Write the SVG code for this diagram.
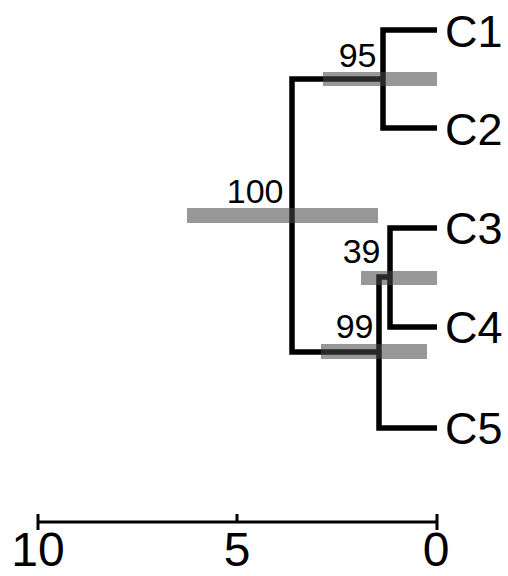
<svg xmlns="http://www.w3.org/2000/svg" width="508" height="576" viewBox="0 0 508 576">
<style>
.br{fill:none;stroke:#000;stroke-width:5.5;stroke-linejoin:miter;stroke-linecap:butt}
.bar{fill:#484848;fill-opacity:0.56}
.tip{font-family:"Liberation Sans",Arial,sans-serif;font-size:45px;fill:#000}
.sup{font-family:"Liberation Sans",Arial,sans-serif;font-size:34px;fill:#000;text-anchor:end}
.ax{font-family:"Liberation Sans",Arial,sans-serif;font-size:48px;fill:#000;text-anchor:middle}
.axl{fill:none;stroke:#000;stroke-width:3}
</style>
<rect width="508" height="576" fill="#fff"/>
<g id="connectors">
<path class="br" d="M383 79 H292 V352 H379"/>
<path class="br" d="M437 30 H383 V128 H437"/>
<path class="br" d="M390 277 H379 V428 H437"/>
<path class="br" d="M437 228 H390 V327 H437"/>
</g>
<g id="node-100"><rect class="bar" x="187" y="208" width="191" height="15"/><text class="sup" x="283.5" y="203">100</text></g>
<g id="node-95"><rect class="bar" x="323" y="72" width="114" height="14"/><text class="sup" x="376.5" y="67">95</text></g>
<g id="node-39"><rect class="bar" x="361" y="271" width="76" height="14"/><text class="sup" x="380.5" y="263">39</text></g>
<g id="node-99"><rect class="bar" x="321" y="344" width="106" height="15"/><text class="sup" x="373.5" y="338">99</text></g>
<g id="tip-C1"><text class="tip" x="445" y="47">C1</text></g>
<g id="tip-C2"><text class="tip" x="445" y="145">C2</text></g>
<g id="tip-C3"><text class="tip" x="445" y="244">C3</text></g>
<g id="tip-C4"><text class="tip" x="445" y="343">C4</text></g>
<g id="tip-C5"><text class="tip" x="445" y="444">C5</text></g>
<g id="axis">
<path class="axl" d="M38 522 H437 M38 514 V530 M237 514 V522 M437 514 V530"/>
<text class="ax" x="38" y="565.5">10</text>
<text class="ax" x="237" y="565.5">5</text>
<text class="ax" x="436" y="565.5">0</text>
</g>
</svg>
